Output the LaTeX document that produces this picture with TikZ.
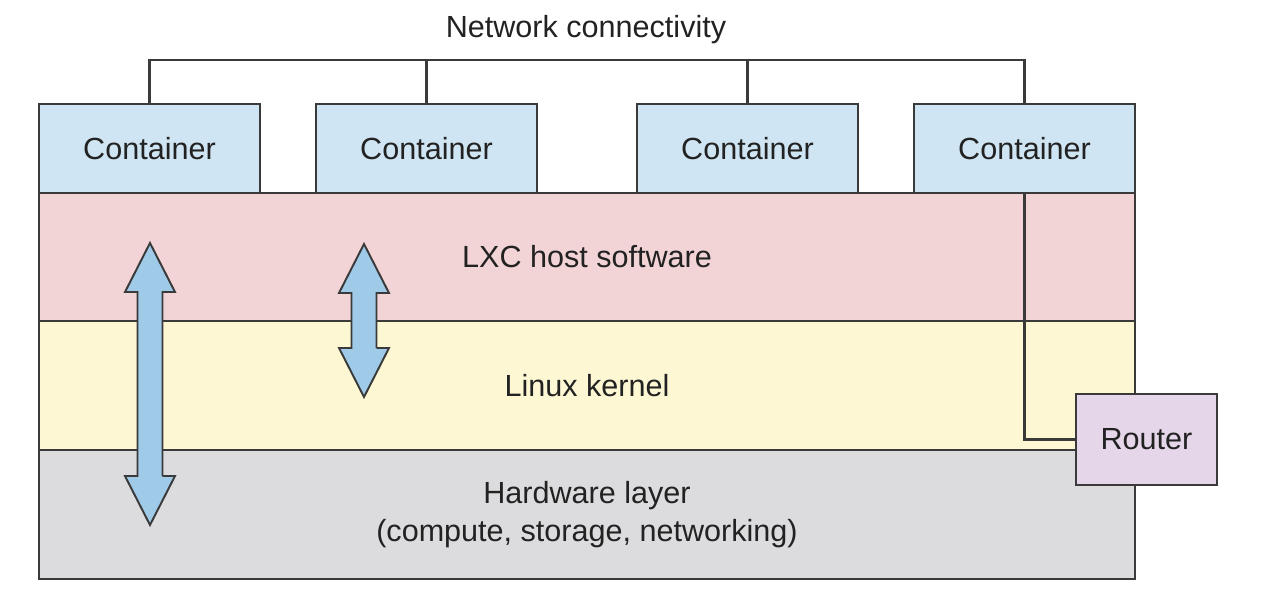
\documentclass[tikz,border=0pt]{standalone}
\usepackage{fontspec}
\setmainfont{Liberation Sans}
\usetikzlibrary{positioning}
\definecolor{Edge}{HTML}{3A3A3A}
\definecolor{Ink}{HTML}{222222}
\definecolor{BoxBlue}{HTML}{CFE5F3}
\definecolor{HostPink}{HTML}{F2D3D6}
\definecolor{KernelYellow}{HTML}{FDF7D3}
\definecolor{HwGray}{HTML}{DCDCDE}
\definecolor{RouterLilac}{HTML}{E5D6E9}
\definecolor{ArrowBlue}{HTML}{A0CBE8}

% vertical double arrow: centre x, top tip y, bottom tip y (pixel units)
\newcommand{\updown}[3]{%
  \draw[updown] (#1,#2) -- ++(25,49) -- ++(-12.5,0) |- (#1+12.5,#3-49)
    -- ++(12.5,0) -- (#1,#3) -- ++(-25,-49) -- ++(12.5,0) |- (#1-12.5,#2+49)
    -- ++(-12.5,0) -- cycle;}

\begin{document}
\begin{tikzpicture}[
    x=0.02cm, y=-0.02cm,
    font=\fontsize{17.4}{22}\selectfont, text=Ink,
    layer/.style={draw=Edge, line width=1.1pt, minimum width=21.92cm, align=center},
    container/.style={draw=Edge, line width=1.1pt, fill=BoxBlue, minimum width=4.42cm,
      minimum height=1.78cm},
    router/.style={draw=Edge, line width=1.1pt, fill=RouterLilac, minimum width=2.82cm,
      minimum height=1.82cm},
    wire/.style={draw=Edge, line width=1.6pt},
    updown/.style={draw=Edge, line width=1.1pt, fill=ArrowBlue, line join=miter}
  ]
    \useasboundingbox (0,0) rectangle (1280,596);
    % layers
    \node[layer, fill=HostPink, minimum height=2.56cm] (host) at (587,257) {LXC host software};
    \node[layer, fill=KernelYellow, minimum height=2.58cm] (kernel) at (587,385.5) {Linux kernel};
    \node[layer, fill=HwGray, minimum height=2.58cm] (hw) at (587,514.5)
      {Hardware layer\\(compute, storage, networking)};
    % containers
    \node[container] (c1) at (149.5,148.5) {Container};
    \node[container] (c2) at (426.5,148.5) {Container};
    \node[container] (c3) at (747.5,148.5) {Container};
    \node[container] (c4) at (1024.5,148.5) {Container};
    \node[router] (router) at (1146.5,439.5) {Router};
    % network
    \node (net) at (586,30) {Network connectivity};
    \coordinate (bus) at (586,60);
    \draw[wire] (c1.north) |- (bus) -| (c4.north);
    \draw[wire] (c2.north) -- (c2.north |- bus);
    \draw[wire] (c3.north) -- (c3.north |- bus);
    \draw[wire] (c4.south) |- (router.west);
    % double arrows
    \updown{150}{243}{525}
    \updown{364}{244}{397}
\end{tikzpicture}
\end{document}
